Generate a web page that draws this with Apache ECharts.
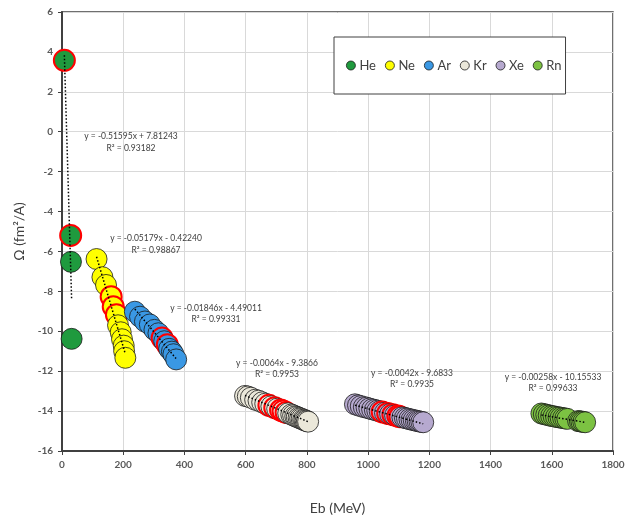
<!DOCTYPE html>
<html>
<head>
<meta charset="utf-8">
<script src="https://cdn.jsdelivr.net/npm/echarts@6/dist/echarts.min.js"></script>
<style>
  html, body { margin: 0; padding: 0; background: #ffffff; }
  #chart { width: 628px; height: 520px; }
</style>
</head>
<body>
<div id="chart"></div>
<script>
// Noble-gas isotopes: binding energy Eb (MeV) against Ω (fm²/A)
const elements = ['He', 'Ne', 'Ar', 'Kr', 'Xe', 'Rn'];
const elementColors = ['#1f9a3e', '#ffff00', '#3a98e4', '#ebe8da', '#b6a9cf', '#7cc242'];

// isotopes drawn with a red outline are flagged with 1
const heX = [7.72, 28.30, 29.27, 31.41];
const heY = [3.58, -5.20, -6.52, -10.38];
const heRed = [1, 1, 0, 0];

const neX = [112.9, 132.1, 143.8, 160.6, 167.4, 177.8, 183.0, 191.8, 196.0, 201.6, 203.0, 206.9];
const neY = [-6.38, -7.29, -7.68, -8.27, -8.77, -9.17, -9.70, -10.05, -10.40, -10.72, -11.00, -11.33];
const neRed = [0, 0, 0, 1, 1, 1, 0, 0, 0, 0, 0, 0];

const arX = [238, 255, 271, 287, 302, 315, 327, 334, 344, 350, 359, 364, 373];
const arY = [-9.02, -9.27, -9.51, -9.66, -9.93, -10.10, -10.34, -10.50, -10.67, -10.88, -11.02, -11.15, -11.41];
const arRed = [0, 0, 0, 0, 0, 0, 1, 0, 1, 0, 0, 0, 0];

const krX = [598, 607, 617, 631, 642, 654, 664, 676, 684, 695, 703, 714, 722, 732, 739, 749, 755, 762, 767, 773, 778, 783, 788, 792, 796, 800, 804];
const krY = [-13.24, -13.27, -13.33, -13.43, -13.48, -13.56, -13.63, -13.71, -13.76, -13.83, -13.88, -13.95, -14.00, -14.07, -14.11, -14.17, -14.21, -14.26, -14.29, -14.33, -14.36, -14.39, -14.43, -14.45, -14.48, -14.50, -14.53];
const krRed = [0, 0, 0, 0, 0, 0, 0, 1, 0, 1, 0, 1, 1, 1, 0, 0, 0, 0, 0, 0, 0, 0, 0, 0, 0, 0, 0];

const xeX = [957, 967, 976, 986, 995, 1004, 1013, 1022, 1030, 1038, 1046, 1055, 1064, 1072, 1081, 1088, 1097, 1104, 1112, 1120, 1127, 1135, 1142, 1149, 1156, 1162, 1168, 1174, 1180];
const xeY = [-13.66, -13.71, -13.75, -13.80, -13.83, -13.87, -13.91, -13.94, -13.98, -14.01, -14.04, -14.08, -14.12, -14.15, -14.18, -14.22, -14.25, -14.28, -14.31, -14.34, -14.37, -14.40, -14.43, -14.45, -14.48, -14.50, -14.52, -14.54, -14.56];
const xeRed = [0, 0, 0, 0, 0, 0, 0, 0, 0, 0, 1, 0, 1, 0, 1, 0, 1, 1, 0, 0, 0, 0, 0, 0, 0, 0, 0, 0, 0];

const rnX = [1566, 1574, 1582, 1590, 1598, 1606, 1614, 1622, 1629, 1637, 1644, 1651, 1686, 1692, 1697, 1703, 1709];
const rnY = [-14.12, -14.15, -14.18, -14.21, -14.24, -14.26, -14.29, -14.31, -14.33, -14.35, -14.37, -14.39, -14.50, -14.51, -14.53, -14.54, -14.56];
const rnRed = [0, 0, 0, 0, 0, 0, 0, 0, 0, 0, 0, 0, 0, 0, 0, 0, 0];

// linear fits per element
const trendSlopes = [-0.51595, -0.05179, -0.01846, -0.0064, -0.0042, -0.00258];
const trendIntercepts = [7.81243, -0.42240, -4.49011, -9.3866, -9.6833, -10.15533];
const trendEquations = [
  'y = -0.51595x + 7.81243',
  'y = -0.05179x - 0.42240',
  'y = -0.01846x - 4.49011',
  'y = -0.0064x - 9.3866',
  'y = -0.0042x - 9.6833',
  'y = -0.00258x - 10.15533'
];
const trendR2 = ['R² = 0.93182', 'R² = 0.98867', 'R² = 0.99331', 'R² = 0.9953', 'R² = 0.9935', 'R² = 0.99633'];

// axis ranges
const xMin = 0, xMax = 1800, xStep = 200;
const yMin = -16, yMax = 6, yStep = 2;

const allX = [heX, neX, arX, krX, xeX, rnX];
const allY = [heY, neY, arY, krY, xeY, rnY];
const allRed = [heRed, neRed, arRed, krRed, xeRed, rnRed];

const labelFont = 'Lato';
const textGray = '#404040';

const scatterSeries = elements.map((name, k) => ({
  name: name,
  type: 'scatter',
  symbol: 'circle',
  symbolSize: 21,
  z: 2,
  itemStyle: { color: elementColors[k], borderColor: '#1a1a1a', borderWidth: 0.8, opacity: 1 },
  emphasis: { disabled: true },
  data: allX[k].map((x, i) => {
    const item = { value: [x, allY[k][i]] };
    if (allRed[k][i]) item.itemStyle = { borderColor: '#ff0000', borderWidth: 2 };
    return item;
  })
}));

const trendSeries = elements.map((name, k) => {
  const lo = Math.min(...allX[k]);
  const hi = Math.max(...allX[k]);
  return {
    name: name + ' fit',
    type: 'line',
    z: 4,
    silent: true,
    showSymbol: false,
    symbol: 'none',
    lineStyle: { color: '#000000', width: 1.5, type: [1.5, 2] },
    data: [[lo, trendSlopes[k] * lo + trendIntercepts[k]], [hi, trendSlopes[k] * hi + trendIntercepts[k]]]
  };
});

// equation label anchors (pixel centres) for each fit
const eqAnchors = [[131, 136, 148], [156, 238, 250], [216, 308, 319], [277, 363, 374], [412, 373, 384], [553, 377, 388]];
const eqFont = '8.5px "' + labelFont + '"';
const eqGraphics = [];
eqAnchors.forEach((a, k) => {
  eqGraphics.push({
    type: 'text', x: a[0], y: a[1], z: 10,
    style: { text: trendEquations[k], fill: textGray, font: eqFont, align: 'center', verticalAlign: 'middle' }
  });
  eqGraphics.push({
    type: 'text', x: a[0], y: a[2], z: 10,
    style: { text: trendR2[k], fill: textGray, font: eqFont, align: 'center', verticalAlign: 'middle' }
  });
});

const chart = echarts.init(document.getElementById('chart'), null, { renderer: 'canvas' });
chart.setOption({
  animation: false,
  backgroundColor: '#ffffff',
  grid: {
    left: 62, right: 15, top: 12, bottom: 64,
    show: true, borderColor: '#404040', borderWidth: 1.5, backgroundColor: 'transparent'
  },
  legend: {
    data: elements,
    left: 334, top: 37,
    orient: 'horizontal',
    icon: 'circle',
    itemWidth: 9, itemHeight: 9, itemGap: 9,
    padding: [22, 4, 22, 12],
    borderColor: '#404040', borderWidth: 1,
    backgroundColor: '#ffffff',
    textStyle: { fontFamily: labelFont, fontSize: 13, color: textGray, padding: [0, 0, 0, -1] },
    itemStyle: { borderColor: '#1a1a1a', borderWidth: 0.8 }
  },
  xAxis: {
    type: 'value', min: xMin, max: xMax, interval: xStep,
    name: 'Eb (MeV)', nameLocation: 'middle', nameGap: 50,
    nameTextStyle: { fontFamily: labelFont, fontSize: 14, color: textGray },
    axisLine: { onZero: false, lineStyle: { color: '#404040', width: 2 } },
    axisTick: { show: true, length: 4, lineStyle: { color: '#404040', width: 1 } },
    axisLabel: { fontFamily: labelFont, fontWeight: 'bold', fontSize: 10, color: '#595959', margin: 9, formatter: v => String(v) },
    splitLine: { show: true, lineStyle: { color: '#d9d9d9', width: 1 } }
  },
  yAxis: {
    type: 'value', min: yMin, max: yMax, interval: yStep,
    name: 'Ω (fm²/A)', nameLocation: 'middle', nameGap: 30, nameRotate: 90,
    nameTextStyle: { fontFamily: labelFont, fontSize: 14, color: textGray },
    axisLine: { onZero: false, lineStyle: { color: '#404040', width: 2 } },
    axisTick: { show: true, length: 4, lineStyle: { color: '#404040', width: 1 } },
    axisLabel: { fontFamily: labelFont, fontWeight: 'bold', fontSize: 10, color: '#595959', margin: 9, formatter: v => String(v) },
    splitLine: { show: true, lineStyle: { color: '#d9d9d9', width: 1 } }
  },
  graphic: eqGraphics,
  series: scatterSeries.concat(trendSeries)
});
</script>
</body>
</html>
